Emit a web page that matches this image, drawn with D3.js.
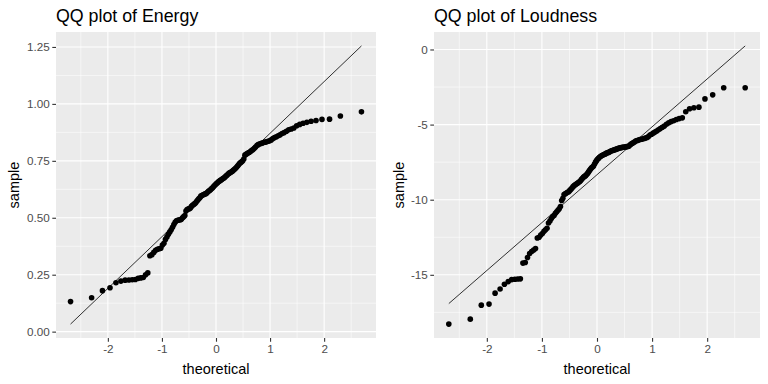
<!DOCTYPE html>
<html>
<head>
<meta charset="utf-8">
<script src="https://cdn.jsdelivr.net/npm/d3@7"></script>
<style>
  body { margin: 0; background: #fff; }
  svg { display: block; font-family: "Liberation Sans", Arial, sans-serif; }
</style>
</head>
<body>
<svg id="chart" width="768" height="384"></svg>
<script>
// sorted sample values (n = 140 each)
const energySample = [
  0.132, 0.149, 0.180, 0.193, 0.215, 0.222, 0.226, 0.227, 0.228, 0.229,
  0.234, 0.236, 0.238, 0.250, 0.258, 0.333, 0.338, 0.348, 0.357, 0.362,
  0.364, 0.366, 0.380, 0.388, 0.405, 0.416, 0.428, 0.438, 0.447, 0.458,
  0.470, 0.480, 0.487, 0.489, 0.490, 0.491, 0.493, 0.500, 0.505, 0.510,
  0.530, 0.536, 0.538, 0.540, 0.543, 0.550, 0.555, 0.558, 0.562, 0.566,
  0.572, 0.578, 0.583, 0.588, 0.595, 0.598, 0.600, 0.602, 0.604, 0.606,
  0.609, 0.613, 0.617, 0.620, 0.624, 0.628, 0.632, 0.637, 0.642, 0.646,
  0.650, 0.654, 0.658, 0.661, 0.664, 0.667, 0.670, 0.673, 0.676, 0.680,
  0.684, 0.688, 0.692, 0.696, 0.699, 0.701, 0.704, 0.708, 0.712, 0.716,
  0.721, 0.726, 0.732, 0.738, 0.742, 0.746, 0.750, 0.758, 0.775, 0.779,
  0.782, 0.785, 0.788, 0.792, 0.796, 0.800, 0.805, 0.811, 0.817, 0.821,
  0.824, 0.826, 0.828, 0.830, 0.832, 0.834, 0.836, 0.838, 0.842, 0.848,
  0.852, 0.856, 0.860, 0.864, 0.870, 0.874, 0.880, 0.886, 0.890, 0.894,
  0.904, 0.910, 0.915, 0.919, 0.924, 0.927, 0.932, 0.933, 0.947, 0.965
];

const loudnessSample = [
  -18.28, -17.95, -17.02, -16.95, -16.22, -15.94, -15.63, -15.45, -15.32, -15.30,
  -15.28, -15.27, -14.22, -14.18, -13.85, -13.58, -13.45, -13.35, -13.25, -12.55,
  -12.50, -12.35, -12.25, -12.10, -12.00, -11.90, -11.55, -11.42, -11.25, -11.12,
  -11.05, -10.90, -10.80, -10.70, -10.60, -10.45, -10.05, -9.90, -9.65, -9.60,
  -9.55, -9.50, -9.47, -9.38, -9.30, -9.22, -9.13, -9.06, -9.00, -8.95,
  -8.90, -8.85, -8.80, -8.74, -8.65, -8.57, -8.50, -8.45, -8.40, -8.33,
  -8.25, -8.15, -8.05, -7.96, -7.88, -7.82, -7.76, -7.62, -7.50, -7.40,
  -7.31, -7.25, -7.18, -7.12, -7.08, -7.04, -7.01, -6.98, -6.95, -6.90,
  -6.87, -6.85, -6.82, -6.78, -6.74, -6.72, -6.70, -6.67, -6.65, -6.63,
  -6.60, -6.57, -6.55, -6.54, -6.52, -6.51, -6.50, -6.49, -6.47, -6.46,
  -6.44, -6.36, -6.30, -6.25, -6.20, -6.15, -6.08, -6.06, -6.03, -5.99,
  -5.98, -5.96, -5.93, -5.90, -5.86, -5.80, -5.70, -5.64, -5.57, -5.50,
  -5.43, -5.35, -5.26, -5.18, -5.10, -4.98, -4.88, -4.80, -4.74, -4.66,
  -4.60, -4.55, -4.15, -3.95, -3.88, -3.84, -3.29, -3.02, -2.55, -2.55
];

const xTicks = [-2, -1, 0, 1, 2];
const energyTicks = [0, 0.25, 0.5, 0.75, 1, 1.25];
const loudnessTicks = [-15, -10, -5, 0];
const titles = ["QQ plot of Energy", "QQ plot of Loudness"];

// inverse normal cdf (Acklam)
function qnorm(p) {
  const a = [-3.969683028665376e+01, 2.209460984245205e+02, -2.759285104469687e+02, 1.383577518672690e+02, -3.066479806614716e+01, 2.506628277459239e+00];
  const b = [-5.447609879822406e+01, 1.615858368580409e+02, -1.556989798598866e+02, 6.680131188771972e+01, -1.328068155288572e+01];
  const c = [-7.784894002430293e-03, -3.223964580411365e-01, -2.400758277161838e+00, -2.549732539343734e+00, 4.374664141464968e+00, 2.938163982698783e+00];
  const d = [7.784695709041462e-03, 3.224671290700398e-01, 2.445134137142996e+00, 3.754408661907416e+00];
  const plow = 0.02425;
  let q, r;
  if (p < plow) {
    q = Math.sqrt(-2 * Math.log(p));
    return (((((c[0]*q+c[1])*q+c[2])*q+c[3])*q+c[4])*q+c[5]) / ((((d[0]*q+d[1])*q+d[2])*q+d[3])*q+1);
  }
  if (p > 1 - plow) {
    q = Math.sqrt(-2 * Math.log(1 - p));
    return -(((((c[0]*q+c[1])*q+c[2])*q+c[3])*q+c[4])*q+c[5]) / ((((d[0]*q+d[1])*q+d[2])*q+d[3])*q+1);
  }
  q = p - 0.5; r = q * q;
  return (((((a[0]*r+a[1])*r+a[2])*r+a[3])*r+a[4])*r+a[5])*q / (((((b[0]*r+b[1])*r+b[2])*r+b[3])*r+b[4])*r+1);
}

const svg = d3.select("#chart");
const fmtNum = d => String(d).replace("\u2212", "-");

function drawPanel(opts) {
  const { sample, yTicks, yFormat, title, left, right, top, bottom, ylabX } = opts;
  const n = sample.length;
  const pts = sample.map((s, i) => ({ x: qnorm((i + 1 - 0.5) / n), y: s }));

  // qq line through the quartiles, same as stat_qq_line
  const q1 = d3.quantile(sample, 0.25), q3 = d3.quantile(sample, 0.75);
  const slope = (q3 - q1) / (qnorm(0.75) - qnorm(0.25));
  const intercept = q1 - slope * qnorm(0.25);
  const xr = d3.extent(pts, d => d.x);
  const linePts = xr.map(x => ({ x, y: intercept + slope * x }));

  const yr = d3.extent(sample.concat(linePts.map(d => d.y)));
  const xpad = (xr[1] - xr[0]) * 0.05, ypad = (yr[1] - yr[0]) * 0.05;
  const x = d3.scaleLinear().domain([xr[0] - xpad, xr[1] + xpad]).range([left, right]);
  const y = d3.scaleLinear().domain([yr[0] - ypad, yr[1] + ypad]).range([bottom, top]);

  const g = svg.append("g");
  g.append("rect").attr("x", left).attr("y", top)
    .attr("width", right - left).attr("height", bottom - top).attr("fill", "#EBEBEB");

  // minor grid at half steps
  const xStep = xTicks[1] - xTicks[0], yStep = yTicks[1] - yTicks[0];
  const xMinor = d3.range(xTicks[0] - xStep / 2, xTicks[xTicks.length - 1] + xStep, xStep)
    .filter(v => v > x.domain()[0] && v < x.domain()[1]);
  const yMinor = d3.range(yTicks[0] - yStep / 2, yTicks[yTicks.length - 1] + yStep, yStep)
    .filter(v => v > y.domain()[0] && v < y.domain()[1]);

  g.append("g").selectAll("line").data(xMinor).join("line")
    .attr("x1", d => x(d)).attr("x2", d => x(d)).attr("y1", top).attr("y2", bottom)
    .attr("stroke", "#fff").attr("stroke-width", 0.55);
  g.append("g").selectAll("line").data(yMinor).join("line")
    .attr("y1", d => y(d)).attr("y2", d => y(d)).attr("x1", left).attr("x2", right)
    .attr("stroke", "#fff").attr("stroke-width", 0.55);
  g.append("g").selectAll("line").data(xTicks).join("line")
    .attr("x1", d => x(d)).attr("x2", d => x(d)).attr("y1", top).attr("y2", bottom)
    .attr("stroke", "#fff").attr("stroke-width", 1.1);
  g.append("g").selectAll("line").data(yTicks).join("line")
    .attr("y1", d => y(d)).attr("y2", d => y(d)).attr("x1", left).attr("x2", right)
    .attr("stroke", "#fff").attr("stroke-width", 1.1);

  // points then the reference line
  g.append("g").selectAll("circle").data(pts).join("circle")
    .attr("cx", d => x(d.x)).attr("cy", d => y(d.y)).attr("r", 2.8).attr("fill", "#000");

  g.append("path").datum(linePts)
    .attr("d", d3.line().x(d => x(d.x)).y(d => y(d.y)))
    .attr("stroke", "#000").attr("stroke-width", 0.8).attr("fill", "none");

  // axes
  const xAxis = g.append("g").attr("transform", `translate(0,${bottom})`)
    .call(d3.axisBottom(x).tickValues(xTicks).tickSize(3.7).tickPadding(2.5).tickFormat(fmtNum));
  const yAxis = g.append("g").attr("transform", `translate(${left},0)`)
    .call(d3.axisLeft(y).tickValues(yTicks).tickSize(3.7).tickPadding(2.5).tickFormat(yFormat));
  [xAxis, yAxis].forEach(ax => {
    ax.select(".domain").remove();
    ax.selectAll(".tick line").attr("stroke", "#333333").attr("stroke-width", 1.1);
    ax.selectAll(".tick text").attr("fill", "#4D4D4D")
      .style("font-size", "11.7px").style("font-family", "'Liberation Sans', Arial, sans-serif");
  });

  g.append("text").attr("x", (left + right) / 2).attr("y", 374)
    .attr("text-anchor", "middle").attr("fill", "#000").style("font-size", "14.5px")
    .text("theoretical");
  g.append("text").attr("transform", `translate(${ylabX},${(top + bottom) / 2}) rotate(-90)`)
    .attr("text-anchor", "middle").attr("fill", "#000").style("font-size", "14.5px")
    .text("sample");
  g.append("text").attr("x", left).attr("y", 22)
    .attr("fill", "#000").style("font-size", "17.8px")
    .text(title);
}

drawPanel({
  sample: energySample, yTicks: energyTicks, yFormat: d3.format(".2f"),
  title: titles[0], left: 56, right: 376, top: 32, bottom: 338, ylabX: 19
});
drawPanel({
  sample: loudnessSample, yTicks: loudnessTicks, yFormat: fmtNum,
  title: titles[1], left: 434, right: 760, top: 32, bottom: 338, ylabX: 404
});
</script>
</body>
</html>
